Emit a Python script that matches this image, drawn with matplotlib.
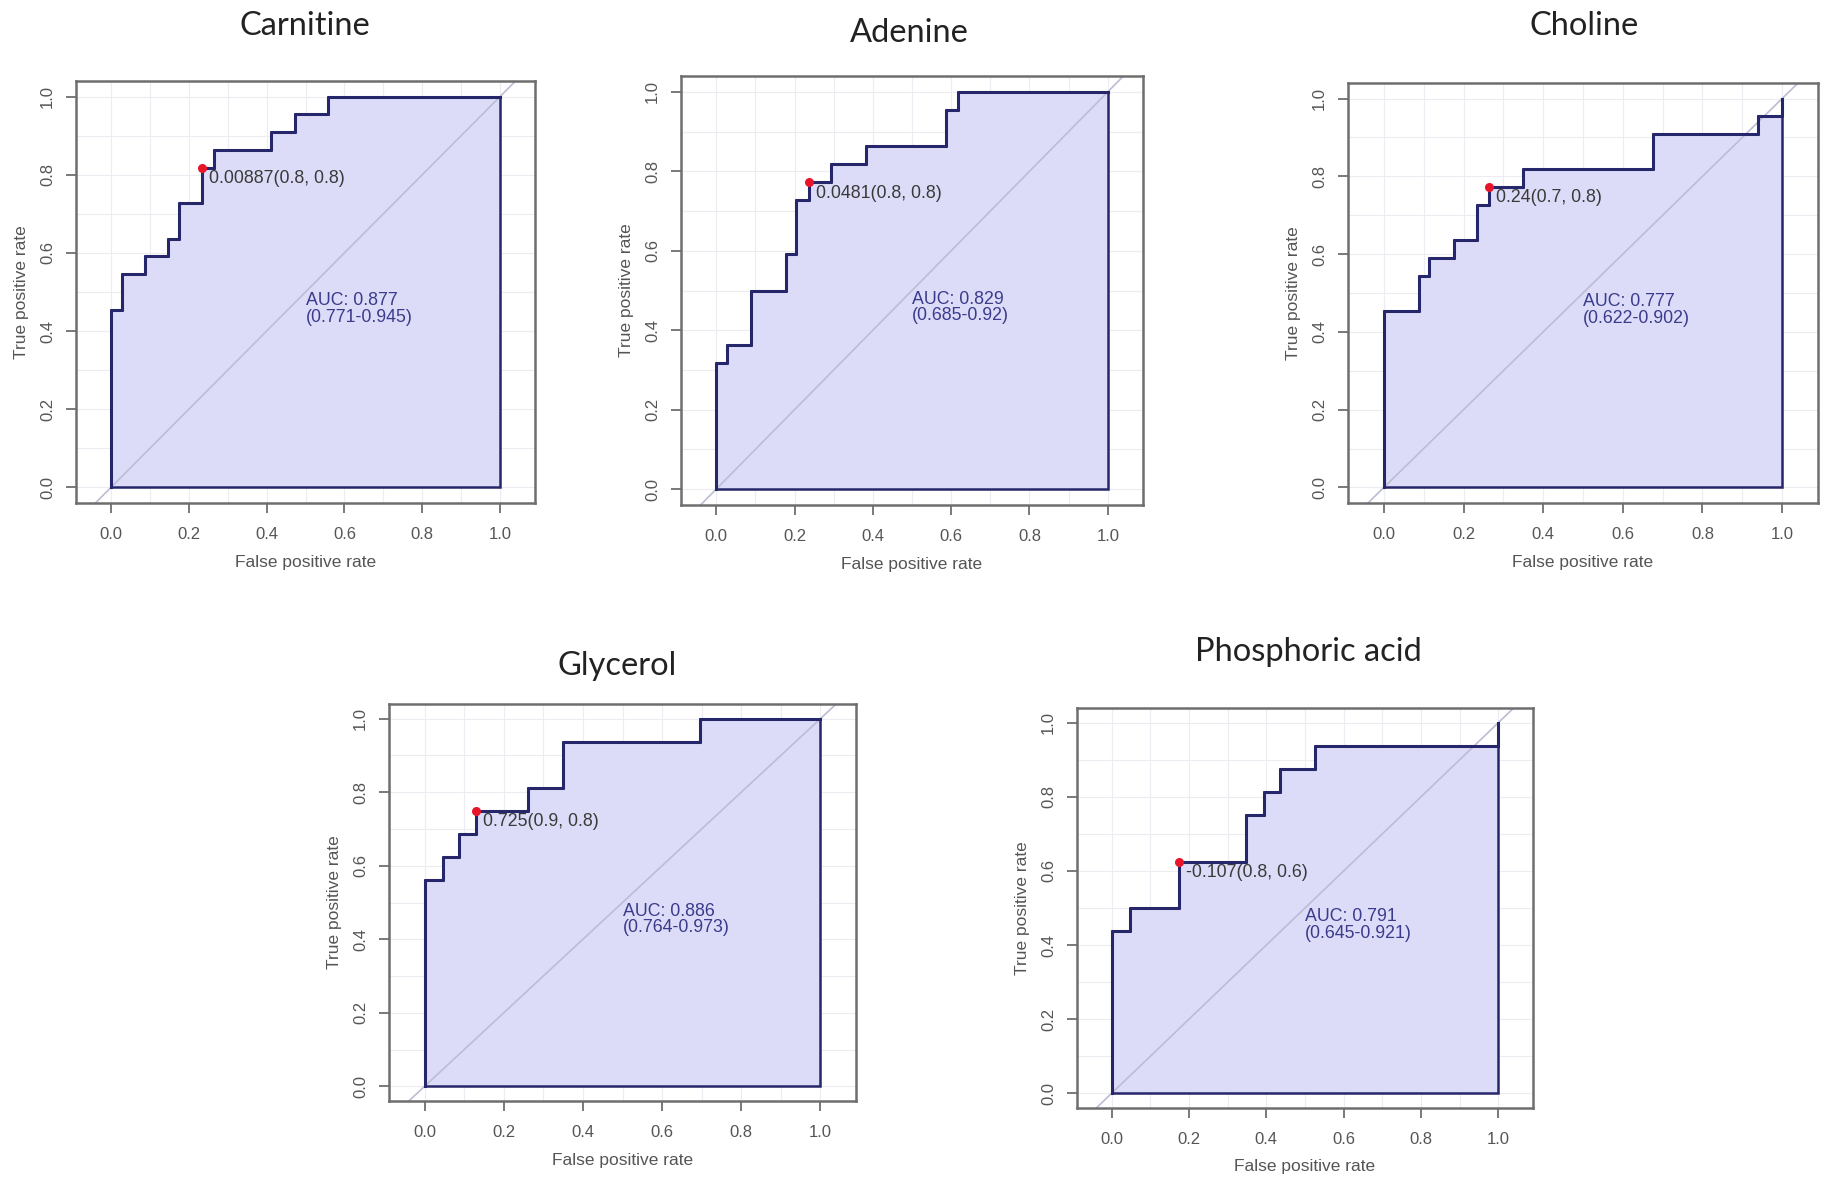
import matplotlib
matplotlib.use("Agg")
import matplotlib.pyplot as plt

names = ["Carnitine", "Adenine", "Choline", "Glycerol", "Phosphoric acid"]

# fpr where each step goes up, and the tpr reached after that step
carnitine_fpr = [0, 0.029, 0.087, 0.146, 0.176, 0.235, 0.264, 0.411, 0.474, 0.558]
carnitine_tpr = [0.455, 0.545, 0.591, 0.636, 0.727, 0.818, 0.864, 0.909, 0.955, 1.0]
adenine_fpr = [0, 0.027, 0.088, 0.177, 0.204, 0.236, 0.294, 0.382, 0.588, 0.618]
adenine_tpr = [0.318, 0.364, 0.5, 0.591, 0.727, 0.773, 0.818, 0.864, 0.955, 1.0]
choline_fpr = [0, 0.087, 0.113, 0.176, 0.234, 0.263, 0.35, 0.676, 0.939, 1.0]
choline_tpr = [0.455, 0.545, 0.591, 0.636, 0.727, 0.773, 0.818, 0.909, 0.955, 1.0]
glycerol_fpr = [0, 0.047, 0.086, 0.131, 0.262, 0.35, 0.696]
glycerol_tpr = [0.5625, 0.625, 0.6875, 0.75, 0.8125, 0.9375, 1.0]
phosphoric_fpr = [0, 0.047, 0.173, 0.348, 0.395, 0.436, 0.525, 1.0]
phosphoric_tpr = [0.4375, 0.5, 0.625, 0.75, 0.8125, 0.875, 0.9375, 1.0]

best_points = [(0.235, 0.818), (0.236, 0.773), (0.263, 0.773), (0.131, 0.75), (0.173, 0.625)]
thres_labels = ["0.00887(0.8, 0.8)", "0.0481(0.8, 0.8)", "0.24(0.7, 0.8)",
                "0.725(0.9, 0.8)", "-0.107(0.8, 0.6)"]
auc_labels = ["AUC: 0.877\n(0.771-0.945)", "AUC: 0.829\n(0.685-0.92)",
              "AUC: 0.777\n(0.622-0.902)", "AUC: 0.886\n(0.764-0.973)",
              "AUC: 0.791\n(0.645-0.921)"]
ticks = [0.0, 0.2, 0.4, 0.6, 0.8, 1.0]

curves = [(carnitine_fpr, carnitine_tpr), (adenine_fpr, adenine_tpr),
          (choline_fpr, choline_tpr), (glycerol_fpr, glycerol_tpr),
          (phosphoric_fpr, phosphoric_tpr)]

W, H = 1826, 1178
# axes boxes in pixels: left, right, top, bottom
boxes = [(76, 535, 81, 503), (681, 1143, 76, 505), (1348, 1818, 83, 503),
         (389, 856, 704, 1101), (1077, 1533, 708, 1108)]
title_pos = [(305, 26), (909, 33), (1584, 26), (617, 666), (1308, 652)]

plt.rcParams['font.family'] = ['Liberation Sans', 'DejaVu Sans']

fill_col = "#dcdcf8"
line_col = "#26266a"
frame_col = "#6e6e6e"
text_col = "#555555"

fig = plt.figure(figsize=(W / 100, H / 100), dpi=100)

for i in range(5):
    l, r, t, b = boxes[i]
    w, h = r - l, b - t
    ax = fig.add_axes([l / W, 1 - b / H, w / W, h / H])
    xs, ys = curves[i]

    # build the roc path from the steps
    px, py = [0], [0]
    for j in range(len(xs)):
        px.append(xs[j])
        py.append(py[-1])
        px.append(xs[j])
        py.append(ys[j])
    px.append(1.0)
    py.append(ys[-1])

    for g in [k / 10 for k in range(11)]:
        ax.axvline(g, color="#ececf2", lw=0.8, zorder=0)
        ax.axhline(g, color="#ececf2", lw=0.8, zorder=0)

    ax.fill(px + [1.0], py + [0], facecolor=fill_col, edgecolor=line_col, lw=1.8, zorder=1)
    ax.axline((0, 0), (1, 1), color="#bcbcd4", lw=1.2, zorder=2)
    ax.plot(px, py, color=line_col, lw=2.2, zorder=3)

    bx, by = best_points[i]
    ax.plot(bx, by, "o", color="#e8152a", ms=5.5, zorder=4)
    ax.annotate(thres_labels[i], (bx, by), xytext=(5, -8), textcoords="offset points",
                ha="left", va="center", fontsize=12.8, color="#3a3a3a", zorder=5)
    ax.text(0.5, 0.5, auc_labels[i], ha="left", va="top", fontsize=12.8,
            color="#3b3b8c", linespacing=1.0, zorder=5)

    ax.set_xlim(-0.09, 1.09)
    ax.set_ylim(-0.04, 1.04)
    ax.set_xticks(ticks)
    ax.set_yticks(ticks)
    ax.set_xticklabels(["%.1f" % v for v in ticks])
    ax.set_yticklabels(["%.1f" % v for v in ticks], rotation=90, va="center")
    ax.tick_params(axis="both", length=7, width=1.3, color=frame_col,
                   labelsize=12, labelcolor=text_col)
    ax.tick_params(axis="x", pad=10)
    ax.tick_params(axis="y", pad=8)
    for s in ax.spines.values():
        s.set_color(frame_col)
        s.set_linewidth(1.8)
    ax.set_xlabel("False positive rate", fontsize=12.5, color=text_col, va="center")
    ax.set_ylabel("True positive rate", fontsize=12.5, color=text_col, va="center")
    ax.xaxis.set_label_coords(0.5, -59 / h)
    ax.yaxis.set_label_coords(-55 / w, 0.5)

    tx, ty = title_pos[i]
    fig.text(tx / W, 1 - ty / H, names[i], ha="center", va="center",
             fontsize=23.5, color="#222222", family=["Lato", "DejaVu Sans"])

fig.savefig("out.png", dpi=100, facecolor="white")
